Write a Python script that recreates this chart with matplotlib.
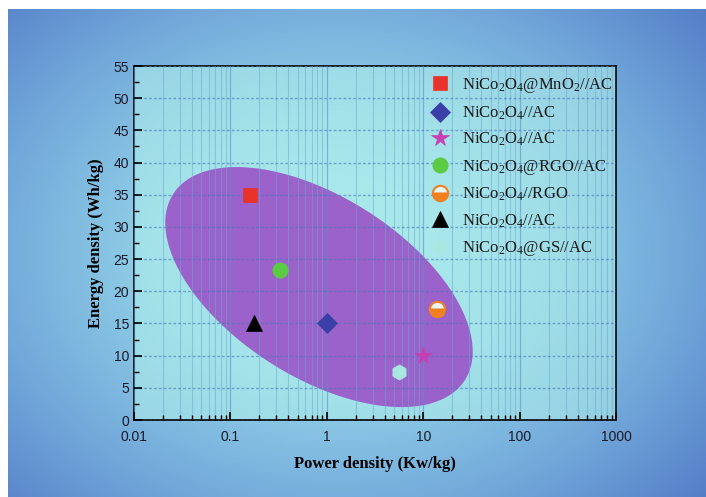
import numpy as np
import matplotlib
matplotlib.use("Agg")
import matplotlib.pyplot as plt
from matplotlib.colors import LinearSegmentedColormap

# ---- data ----
labels = [r"NiCo$_2$O$_4$@MnO$_2$//AC", r"NiCo$_2$O$_4$//AC", r"NiCo$_2$O$_4$//AC",
          r"NiCo$_2$O$_4$@RGO//AC", r"NiCo$_2$O$_4$//RGO", r"NiCo$_2$O$_4$//AC",
          r"NiCo$_2$O$_4$@GS//AC"]
power = [0.16, 1.0, 10.0, 0.33, 14.0, 0.175, 5.6]
energy = [35.0, 15.0, 10.0, 23.3, 17.2, 15.0, 7.5]
markers = ["s", "D", "*", "o", "o", "^", "h"]
colors = ["#e8322a", "#3a40a8", "#c640b4", "#5ccb44", "#f08020", "#000000", "#a8e8e0"]
sizes = [10, 10, 13, 11, 11, 11, 11]
x_ticks = [0.01, 0.1, 1, 10, 100, 1000]
x_ticklabels = ["0.01", "0.1", "1", "10", "100", "1000"]
y_ticks = list(range(0, 56, 5))

# ellipse (in log10(x) / y space)
ell_center = (-0.081, 20.65)

plt.rcParams["mathtext.fontset"] = "custom"
plt.rcParams["mathtext.rm"] = "Liberation Serif"
plt.rcParams["mathtext.it"] = "Liberation Serif:italic"

W, H = 706, 497
fig = plt.figure(figsize=(W / 100, H / 100), dpi=100)
fig.patch.set_facecolor("white")

# background gradient
bg = fig.add_axes([8 / W, 0, 1 - 8 / W, 1 - 9 / H])
bg.set_axis_off()
yy, xx = np.mgrid[0:1:300j, 0:1:400j]
r = np.sqrt(((xx - 0.47) / 0.62) ** 2 + ((yy - 0.5) / 0.68) ** 2)
r = np.clip(r, 0, 1.2) / 1.2
cmap = LinearSegmentedColormap.from_list("bgc", ["#a8e6ec", "#92d2e8", "#72a8da", "#4e76c4"])
bg.imshow(r, cmap=cmap, aspect="auto", extent=[0, 1, 0, 1], vmin=0, vmax=1)

ax = fig.add_axes([134 / W, (H - 420) / H, (616 - 134) / W, (420 - 66) / H])
ax.set_facecolor((0.70, 0.95, 0.92, 0.55))
ax.set_xscale("log")
ax.set_xlim(0.01, 1000)
ax.set_ylim(0, 55)

# ellipse polygon
ppd = (616 - 134) / 5.0
ppu = (420 - 66) / 55.0
a, b, th = 173.0, 90.0, np.deg2rad(-32.5)
t = np.linspace(0, 2 * np.pi, 400)
dx = a * np.cos(t) * np.cos(th) - b * np.sin(t) * np.sin(th)
dy = a * np.cos(t) * np.sin(th) + b * np.sin(t) * np.cos(th)
ex = 10 ** (ell_center[0] + dx / ppd)
ey = ell_center[1] + dy / ppu
ax.fill(ex, ey, color="#9a58c8", alpha=0.93, zorder=1, lw=0)

# grid
ax.set_axisbelow(False)
ax.grid(True, which="minor", axis="x", color="#6aa8d0", lw=0.8, alpha=0.5, zorder=2)
ax.grid(True, which="major", axis="x", color="#5a90c8", lw=0.9, alpha=0.6, zorder=2)
ax.grid(True, which="major", axis="y", color="#4a78b8", lw=1.0, ls=(0, (2, 1.5)), alpha=0.6, zorder=2)

handles = []
for i in range(len(power)):
    if i == 4:
        kw = dict(fillstyle="bottom", markerfacecoloralt="#e8f6f6", markeredgecolor=colors[i], markeredgewidth=1.5)
    else:
        kw = dict(markeredgecolor=colors[i], markeredgewidth=0.5)
    h, = ax.plot([power[i]], [energy[i]], linestyle="none", marker=markers[i], color=colors[i],
                 markersize=sizes[i], label=labels[i], zorder=5, **kw)
    handles.append(h)

ax.set_xticks(x_ticks)
ax.set_xticklabels(x_ticklabels)
ax.set_yticks(y_ticks)
ax.set_yticks(np.arange(2.5, 55, 5), minor=True)
ax.tick_params(which="both", direction="in", top=False, right=False, labelsize=10, colors="black")
ax.tick_params(which="major", length=6, width=1.2)
ax.tick_params(which="minor", length=3.5, width=1.0)
ax.tick_params(axis="x", which="major", pad=7)
for lab in ax.get_xticklabels() + ax.get_yticklabels():
    lab.set_fontfamily("Liberation Sans")
    lab.set_color("#1a1a2a")
for s in ax.spines.values():
    s.set_linewidth(1.3)
    s.set_color("#111111")

ax.set_xlabel("Power density (Kw/kg)", fontfamily="Liberation Serif", fontweight="bold", fontsize=12, labelpad=9)
ax.set_ylabel("Energy density (Wh/kg)", fontfamily="Liberation Serif", fontweight="bold", fontsize=12, labelpad=7)

leg = ax.legend(handles=handles, loc="upper left", bbox_to_anchor=(0.6, 0.99), frameon=False,
                prop={"family": "Liberation Serif", "size": 12}, labelspacing=0.55,
                handletextpad=0.7, handlelength=1.2, borderaxespad=0)
for tx in leg.get_texts():
    tx.set_color("#1a1a1a")

fig.savefig("out.png", dpi=100)
